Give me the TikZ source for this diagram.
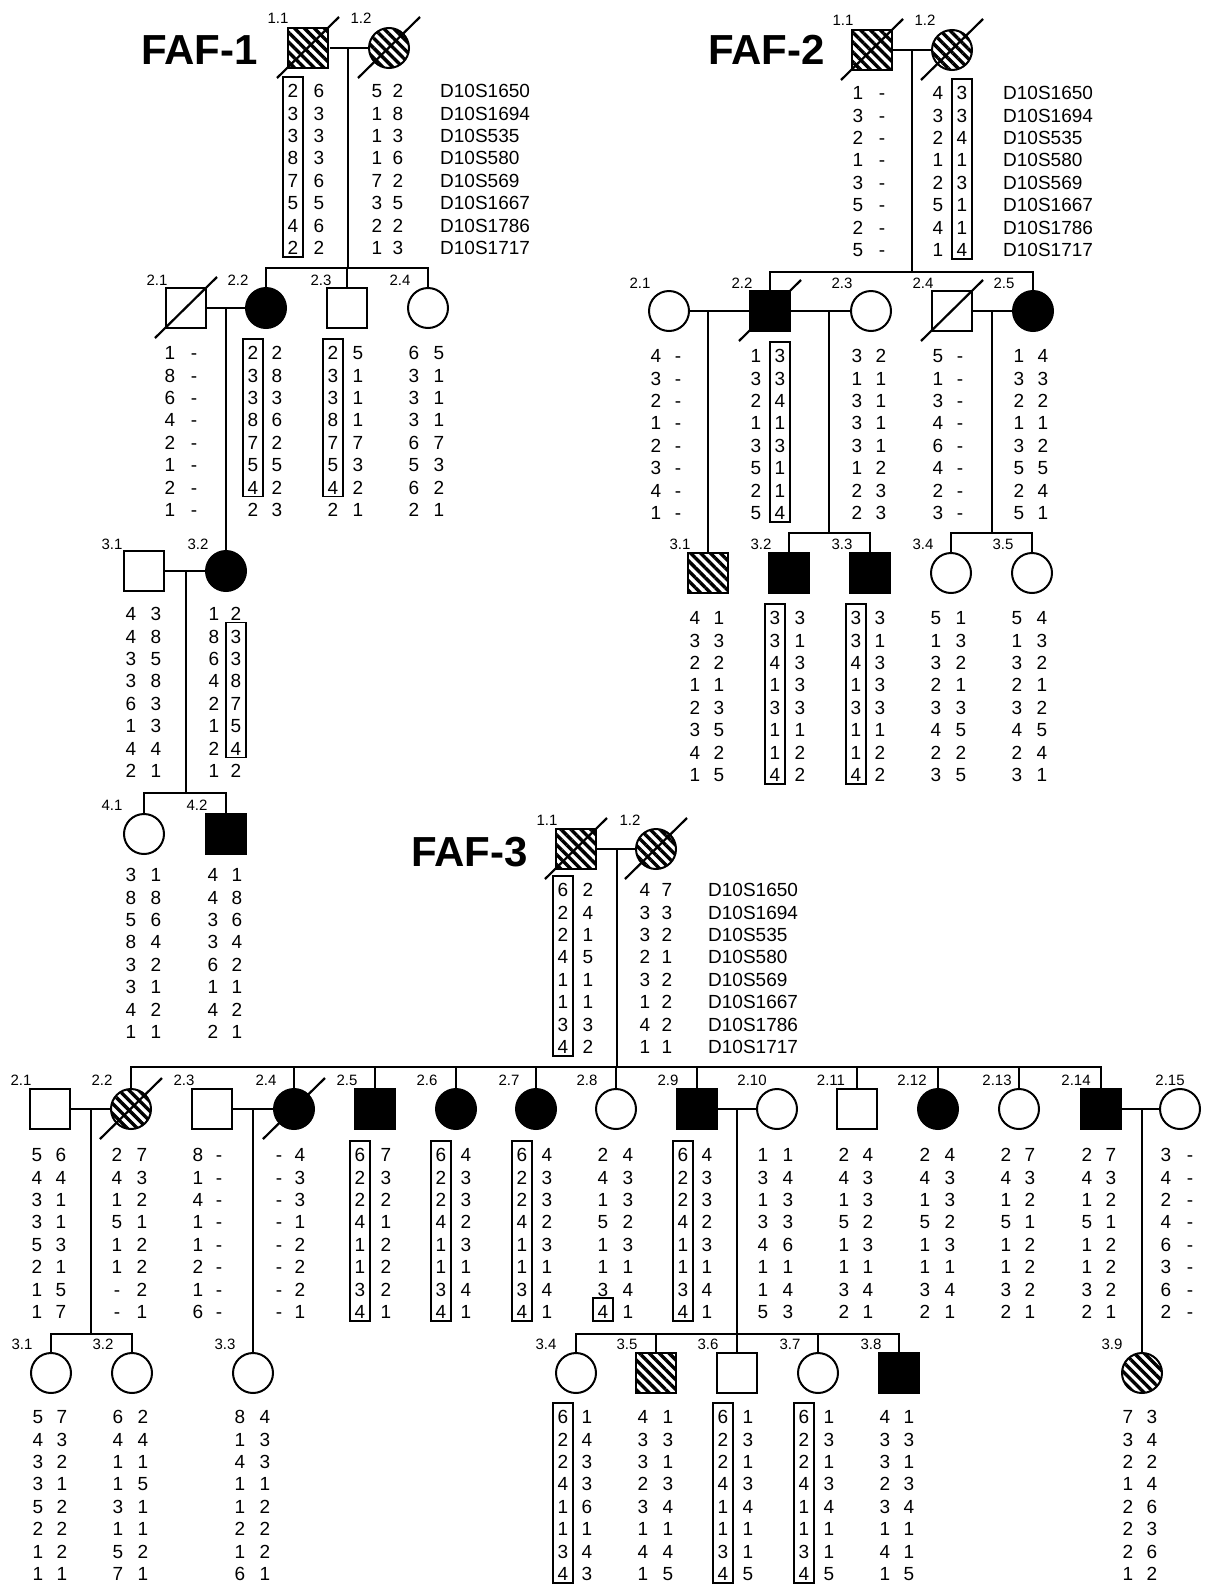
\documentclass[tikz,border=0pt]{standalone}
\usepackage{fontspec}
\setmainfont{Liberation Sans}
\usetikzlibrary{patterns.meta,calc}
\newcommand\gcol[4]{\node[gc] (#1) at ({#2},{#3-6.8}) {\vphantom{0}#4};}
\newcommand\gp[6]{\gcol{#1L}{#2}{#4}{#5}\gcol{#1R}{#3}{#4}{#6}}
\newcommand\gbx[4]{\draw[bx] ({#1-10},{#2+(#3-1)*22.4-14}) rectangle ({#1+10},{#2+(#4-1)*22.4+9});}
\newcommand\decsl[1]{\draw[sl] (#1.center) ++(-31,30) -- ++(62,-61);}
\newcommand\mkr[3]{\node[mk] (#1) at ({#2},{#3-6.8}) {\vphantom{0}D10S1650\\D10S1694\\D10S535\\D10S580\\D10S569\\D10S1667\\D10S1786\\D10S1717};}
\newcommand\ddash{-\\-\\-\\-\\-\\-\\-\\-}
\begin{document}
\begin{tikzpicture}[x=1pt,y=-1pt,
 ln/.style={line width=1.8pt},
 sq/.style={draw,rectangle,line width=2pt,minimum size=40pt,inner sep=0pt},
 ci/.style={draw,circle,line width=2pt,minimum size=40pt,inner sep=0pt},
 hatch/.style={pattern={Lines[angle=-45,distance=7pt,line width=3.4pt]}},
 aff/.style={fill=black},
 sl/.style={line width=2.2pt},
 bx/.style={line width=1.8pt},
 gc/.style={font=\fontsize{19}{22.4}\selectfont,align=center,inner sep=0pt,anchor=north},
 mk/.style={font=\fontsize{19}{22.4}\selectfont,align=left,inner sep=0pt,anchor=north west},
 lab/.style={font=\fontsize{15}{16}\selectfont,inner sep=0pt},
 ttl/.style={font=\fontsize{42}{44}\selectfont\bfseries,inner sep=0pt,anchor=base east}]
\useasboundingbox (0,0) rectangle (1207,1585);

%%%%%%%%%%%%%%%% FAF-1
\node[ttl] (t1) at (258,64) {FAF-1};
\node[sq,hatch] (f1n11) at (308,48) {};
\node[ci,hatch] (f1n12) at (389,48) {};
\decsl{f1n11} \decsl{f1n12}
\node[lab] (f1l11) at (278,18) {1.1};
\node[lab] (f1l12) at (361,18) {1.2};
\draw[ln] (f1n11) -- (f1n12);
\coordinate (f1m1) at (348,48);
\coordinate (f1s1) at (348,268);
\draw[ln] (f1m1) -- (f1s1);
\gp{f1a11}{293}{319}{91}{2\\3\\3\\8\\7\\5\\4\\2}{6\\3\\3\\3\\6\\5\\6\\2}
\gbx{293}{91}{1}{8}
\gp{f1a12}{377}{398}{91}{5\\1\\1\\1\\7\\3\\2\\1}{2\\8\\3\\6\\2\\5\\2\\3}
\mkr{f1mk}{440}{91}

\node[sq] (f1n21) at (186,308) {}; \decsl{f1n21}
\node[ci,aff] (f1n22) at (266,308) {};
\node[sq] (f1n23) at (347,308) {};
\node[ci] (f1n24) at (428,308) {};
\node[lab] (f1l21) at (157,280) {2.1};
\node[lab] (f1l22) at (238,280) {2.2};
\node[lab] (f1l23) at (321,280) {2.3};
\node[lab] (f1l24) at (400,280) {2.4};
\draw[ln] (f1n22.north) -- (f1n22.north |- f1s1) -| (f1n24.north);
\draw[ln] (f1n23.north) -- (f1n23.north |- f1s1);
\draw[ln] (f1n21) -- (f1n22);
\coordinate (f1m2) at (226,308);
\gp{f1a21}{170}{194}{353}{1\\8\\6\\4\\2\\1\\2\\1}{\ddash}
\gp{f1a22}{253}{277}{353}{2\\3\\3\\8\\7\\5\\4\\2}{2\\8\\3\\6\\2\\5\\2\\3}
\gbx{253}{353}{1}{7}
\gp{f1a23}{333}{358}{353}{2\\3\\3\\8\\7\\5\\4\\2}{5\\1\\1\\1\\7\\3\\2\\1}
\gbx{333}{353}{1}{7}
\gp{f1a24}{414}{439}{353}{6\\3\\3\\3\\6\\5\\6\\2}{5\\1\\1\\1\\7\\3\\2\\1}

\node[sq] (f1n31) at (144,571) {};
\node[ci,aff] (f1n32) at (226,571) {};
\node[lab] (f1l31) at (112,544) {3.1};
\node[lab] (f1l32) at (198,544) {3.2};
\draw[ln] (f1m2) -- (f1n32.north);
\draw[ln] (f1n31) -- (f1n32);
\coordinate (f1m3) at (186,571);
\coordinate (f1s3) at (186,793);
\draw[ln] (f1m3) -- (f1s3);
\gp{f1a31}{131}{156}{614}{4\\4\\3\\3\\6\\1\\4\\2}{3\\8\\5\\8\\3\\3\\4\\1}
\gp{f1a32}{214}{236}{614}{1\\8\\6\\4\\2\\1\\2\\1}{2\\3\\3\\8\\7\\5\\4\\2}
\gbx{236}{614}{2}{7}

\node[ci] (f1n41) at (144,834) {};
\node[sq,aff] (f1n42) at (226,834) {};
\node[lab] (f1l41) at (112,805) {4.1};
\node[lab] (f1l42) at (197,805) {4.2};
\draw[ln] (f1n41.north) -- (f1n41.north |- f1s3) -| (f1n42.north);
\gp{f1a41}{131}{156}{875}{3\\8\\5\\8\\3\\3\\4\\1}{1\\8\\6\\4\\2\\1\\2\\1}
\gp{f1a42}{213}{237}{875}{4\\4\\3\\3\\6\\1\\4\\2}{1\\8\\6\\4\\2\\1\\2\\1}

%%%%%%%%%%%%%%%% FAF-2
\node[ttl] (t2) at (825,64) {FAF-2};
\node[sq,hatch] (f2n11) at (872,50) {};
\node[ci,hatch] (f2n12) at (952,50) {};
\decsl{f2n11} \decsl{f2n12}
\node[lab] (f2l11) at (843,20) {1.1};
\node[lab] (f2l12) at (925,20) {1.2};
\draw[ln] (f2n11) -- (f2n12);
\coordinate (f2m1) at (912,50);
\coordinate (f2s1) at (912,272);
\draw[ln] (f2m1) -- (f2s1);
\gp{f2a11}{858}{882}{93}{1\\3\\2\\1\\3\\5\\2\\5}{\ddash}
\gp{f2a12}{938}{962}{93}{4\\3\\2\\1\\2\\5\\4\\1}{3\\3\\4\\1\\3\\1\\1\\4}
\gbx{962}{93}{1}{8}
\mkr{f2mk}{1003}{93}

\node[ci] (f2n21) at (669,311) {};
\node[sq,aff] (f2n22) at (770,311) {}; \decsl{f2n22}
\node[ci] (f2n23) at (871,311) {};
\node[sq] (f2n24) at (952,311) {}; \decsl{f2n24}
\node[ci,aff] (f2n25) at (1033,311) {};
\node[lab] (f2l21) at (640,283) {2.1};
\node[lab] (f2l22) at (742,283) {2.2};
\node[lab] (f2l23) at (842,283) {2.3};
\node[lab] (f2l24) at (923,283) {2.4};
\node[lab] (f2l25) at (1004,283) {2.5};
\draw[ln] (f2n22.north) -- (f2n22.north |- f2s1) -| (f2n25.north);
\draw[ln] (f2n21) -- (f2n22);
\draw[ln] (f2n22) -- (f2n23);
\draw[ln] (f2n24) -- (f2n25);
\coordinate (f2m21) at (708,311);
\coordinate (f2m22) at (829,311);
\coordinate (f2m24) at (992,311);
\coordinate (f2s22) at (829,533);
\coordinate (f2s24) at (992,533);
\draw[ln] (f2m22) -- (f2s22);
\draw[ln] (f2m24) -- (f2s24);
\gp{f2a21}{656}{678}{356}{4\\3\\2\\1\\2\\3\\4\\1}{\ddash}
\gp{f2a22}{756}{780}{356}{1\\3\\2\\1\\3\\5\\2\\5}{3\\3\\4\\1\\3\\1\\1\\4}
\gbx{780}{356}{1}{8}
\gp{f2a23}{857}{881}{356}{3\\1\\3\\3\\3\\1\\2\\2}{2\\1\\1\\1\\1\\2\\3\\3}
\gp{f2a24}{938}{960}{356}{5\\1\\3\\4\\6\\4\\2\\3}{\ddash}
\gp{f2a25}{1019}{1043}{356}{1\\3\\2\\1\\3\\5\\2\\5}{4\\3\\2\\1\\2\\5\\4\\1}

\node[sq,hatch] (f2n31) at (708,573) {};
\node[sq,aff] (f2n32) at (789,573) {};
\node[sq,aff] (f2n33) at (870,573) {};
\node[ci] (f2n34) at (951,573) {};
\node[ci] (f2n35) at (1032,573) {};
\node[lab] (f2l31) at (680,544) {3.1};
\node[lab] (f2l32) at (761,544) {3.2};
\node[lab] (f2l33) at (842,544) {3.3};
\node[lab] (f2l34) at (923,544) {3.4};
\node[lab] (f2l35) at (1003,544) {3.5};
\draw[ln] (f2m21) -- (f2n31.north);
\draw[ln] (f2n32.north) -- (f2n32.north |- f2s22) -| (f2n33.north);
\draw[ln] (f2n34.north) -- (f2n34.north |- f2s24) -| (f2n35.north);
\gp{f2a31}{695}{719}{618}{4\\3\\2\\1\\2\\3\\4\\1}{1\\3\\2\\1\\3\\5\\2\\5}
\gp{f2a32}{775}{800}{618}{3\\3\\4\\1\\3\\1\\1\\4}{3\\1\\3\\3\\3\\1\\2\\2}
\gbx{775}{618}{1}{8}
\gp{f2a33}{856}{880}{618}{3\\3\\4\\1\\3\\1\\1\\4}{3\\1\\3\\3\\3\\1\\2\\2}
\gbx{856}{618}{1}{8}
\gp{f2a34}{936}{961}{618}{5\\1\\3\\2\\3\\4\\2\\3}{1\\3\\2\\1\\3\\5\\2\\5}
\gp{f2a35}{1017}{1042}{618}{5\\1\\3\\2\\3\\4\\2\\3}{4\\3\\2\\1\\2\\5\\4\\1}

%%%%%%%%%%%%%%%% FAF-3
\node[ttl] (t3) at (528,866) {FAF-3};
\node[sq,hatch] (f3n11) at (576,849) {};
\node[ci,hatch] (f3n12) at (656,849) {};
\decsl{f3n11} \decsl{f3n12}
\node[lab] (f3l11) at (547,820) {1.1};
\node[lab] (f3l12) at (630,820) {1.2};
\draw[ln] (f3n11) -- (f3n12);
\coordinate (f3m1) at (617,849);
\coordinate (f3s1) at (617,1067);
\draw[ln] (f3m1) -- (f3s1);
\gp{f3a11}{563}{588}{890}{6\\2\\2\\4\\1\\1\\3\\4}{2\\4\\1\\5\\1\\1\\3\\2}
\gbx{563}{890}{1}{8}
\gp{f3a12}{645}{667}{890}{4\\3\\3\\2\\3\\1\\4\\1}{7\\3\\2\\1\\2\\2\\2\\1}
\mkr{f3mk}{708}{890}

\node[sq] (f3n21) at (50,1109) {};
\node[ci,hatch] (f3n22) at (131,1109) {}; \decsl{f3n22}
\node[sq] (f3n23) at (212,1109) {};
\node[ci,aff] (f3n24) at (294,1109) {}; \decsl{f3n24}
\node[sq,aff] (f3n25) at (375,1109) {};
\node[ci,aff] (f3n26) at (456,1109) {};
\node[ci,aff] (f3n27) at (536,1109) {};
\node[ci] (f3n28) at (616,1109) {};
\node[sq,aff] (f3n29) at (697,1109) {};
\node[ci] (f3n210) at (777,1109) {};
\node[sq] (f3n211) at (857,1109) {};
\node[ci,aff] (f3n212) at (938,1109) {};
\node[ci] (f3n213) at (1019,1109) {};
\node[sq,aff] (f3n214) at (1101,1109) {};
\node[ci] (f3n215) at (1180,1109) {};
\node[lab] (f3l21) at (21,1080) {2.1};
\node[lab] (f3l22) at (102,1080) {2.2};
\node[lab] (f3l23) at (184,1080) {2.3};
\node[lab] (f3l24) at (266,1080) {2.4};
\node[lab] (f3l25) at (347,1080) {2.5};
\node[lab] (f3l26) at (427,1080) {2.6};
\node[lab] (f3l27) at (509,1080) {2.7};
\node[lab] (f3l28) at (587,1080) {2.8};
\node[lab] (f3l29) at (668,1080) {2.9};
\node[lab] (f3l210) at (752,1080) {2.10};
\node[lab] (f3l211) at (831,1080) {2.11};
\node[lab] (f3l212) at (912,1080) {2.12};
\node[lab] (f3l213) at (997,1080) {2.13};
\node[lab] (f3l214) at (1076,1080) {2.14};
\node[lab] (f3l215) at (1170,1080) {2.15};
\draw[ln] (f3n22.north) -- (f3n22.north |- f3s1) -| (f3n214.north);
\foreach \k in {24,25,26,27,28,29,211,212,213}
  \draw[ln] (f3n\k.north) -- (f3n\k.north |- f3s1);
\draw[ln] (f3n21) -- (f3n22);
\draw[ln] (f3n23) -- (f3n24);
\draw[ln] (f3n29) -- (f3n210);
\draw[ln] (f3n214) -- (f3n215);
\coordinate (f3m21) at (91,1109);
\coordinate (f3m23) at (253,1109);
\coordinate (f3m29) at (737,1109);
\coordinate (f3m214) at (1142,1109);
\coordinate (f3s21) at (91,1334);
\coordinate (f3s29) at (737,1334);
\draw[ln] (f3m21) -- (f3s21);
\draw[ln] (f3m29) -- (f3s29);
\gp{f3a21}{37}{61}{1155}{5\\4\\3\\3\\5\\2\\1\\1}{6\\4\\1\\1\\3\\1\\5\\7}
\gp{f3a22}{117}{142}{1155}{2\\4\\1\\5\\1\\1\\-\\-}{7\\3\\2\\1\\2\\2\\2\\1}
\gp{f3a23}{198}{219}{1155}{8\\1\\4\\1\\1\\2\\1\\6}{\ddash}
\gp{f3a24}{279}{300}{1155}{\ddash}{4\\3\\3\\1\\2\\2\\2\\1}
\gp{f3a25}{360}{386}{1155}{6\\2\\2\\4\\1\\1\\3\\4}{7\\3\\2\\1\\2\\2\\2\\1}
\gbx{360}{1155}{1}{8}
\gp{f3a26}{441}{466}{1155}{6\\2\\2\\4\\1\\1\\3\\4}{4\\3\\3\\2\\3\\1\\4\\1}
\gbx{441}{1155}{1}{8}
\gp{f3a27}{522}{547}{1155}{6\\2\\2\\4\\1\\1\\3\\4}{4\\3\\3\\2\\3\\1\\4\\1}
\gbx{522}{1155}{1}{8}
\gp{f3a28}{603}{628}{1155}{2\\4\\1\\5\\1\\1\\3\\4}{4\\3\\3\\2\\3\\1\\4\\1}
\gbx{603}{1155}{8}{8}
\gp{f3a29}{683}{707}{1155}{6\\2\\2\\4\\1\\1\\3\\4}{4\\3\\3\\2\\3\\1\\4\\1}
\gbx{683}{1155}{1}{8}
\gp{f3a210}{763}{788}{1155}{1\\3\\1\\3\\4\\1\\1\\5}{1\\4\\3\\3\\6\\1\\4\\3}
\gp{f3a211}{844}{868}{1155}{2\\4\\1\\5\\1\\1\\3\\2}{4\\3\\3\\2\\3\\1\\4\\1}
\gp{f3a212}{925}{950}{1155}{2\\4\\1\\5\\1\\1\\3\\2}{4\\3\\3\\2\\3\\1\\4\\1}
\gp{f3a213}{1006}{1030}{1155}{2\\4\\1\\5\\1\\1\\3\\2}{7\\3\\2\\1\\2\\2\\2\\1}
\gp{f3a214}{1087}{1111}{1155}{2\\4\\1\\5\\1\\1\\3\\2}{7\\3\\2\\1\\2\\2\\2\\1}
\gp{f3a215}{1166}{1190}{1155}{3\\4\\2\\4\\6\\3\\6\\2}{\ddash}

\node[ci] (f3n31) at (51,1373) {};
\node[ci] (f3n32) at (132,1373) {};
\node[ci] (f3n33) at (253,1373) {};
\node[ci] (f3n34) at (576,1373) {};
\node[sq,hatch] (f3n35) at (656,1373) {};
\node[sq] (f3n36) at (737,1373) {};
\node[ci] (f3n37) at (818,1373) {};
\node[sq,aff] (f3n38) at (899,1373) {};
\node[ci,hatch] (f3n39) at (1142,1373) {};
\node[lab] (f3l31) at (22,1344) {3.1};
\node[lab] (f3l32) at (103,1344) {3.2};
\node[lab] (f3l33) at (225,1344) {3.3};
\node[lab] (f3l34) at (546,1344) {3.4};
\node[lab] (f3l35) at (627,1344) {3.5};
\node[lab] (f3l36) at (708,1344) {3.6};
\node[lab] (f3l37) at (790,1344) {3.7};
\node[lab] (f3l38) at (871,1344) {3.8};
\node[lab] (f3l39) at (1112,1344) {3.9};
\draw[ln] (f3n31.north) -- (f3n31.north |- f3s21) -| (f3n32.north);
\draw[ln] (f3m23) -- (f3n33.north);
\draw[ln] (f3n34.north) -- (f3n34.north |- f3s29) -| (f3n38.north);
\foreach \k in {35,36,37}
  \draw[ln] (f3n\k.north) -- (f3n\k.north |- f3s29);
\draw[ln] (f3m214) -- (f3n39.north);
\gp{f3a31}{38}{62}{1417}{5\\4\\3\\3\\5\\2\\1\\1}{7\\3\\2\\1\\2\\2\\2\\1}
\gp{f3a32}{118}{143}{1417}{6\\4\\1\\1\\3\\1\\5\\7}{2\\4\\1\\5\\1\\1\\2\\1}
\gp{f3a33}{240}{265}{1417}{8\\1\\4\\1\\1\\2\\1\\6}{4\\3\\3\\1\\2\\2\\2\\1}
\gp{f3a34}{563}{587}{1417}{6\\2\\2\\4\\1\\1\\3\\4}{1\\4\\3\\3\\6\\1\\4\\3}
\gbx{563}{1417}{1}{8}
\gp{f3a35}{643}{668}{1417}{4\\3\\3\\2\\3\\1\\4\\1}{1\\3\\1\\3\\4\\1\\4\\5}
\gp{f3a36}{723}{748}{1417}{6\\2\\2\\4\\1\\1\\3\\4}{1\\3\\1\\3\\4\\1\\1\\5}
\gbx{723}{1417}{1}{8}
\gp{f3a37}{804}{829}{1417}{6\\2\\2\\4\\1\\1\\3\\4}{1\\3\\1\\3\\4\\1\\1\\5}
\gbx{804}{1417}{1}{8}
\gp{f3a38}{885}{909}{1417}{4\\3\\3\\2\\3\\1\\4\\1}{1\\3\\1\\3\\4\\1\\1\\5}
\gp{f3a39}{1128}{1152}{1417}{7\\3\\2\\1\\2\\2\\2\\1}{3\\4\\2\\4\\6\\3\\6\\2}
\end{tikzpicture}
\end{document}
